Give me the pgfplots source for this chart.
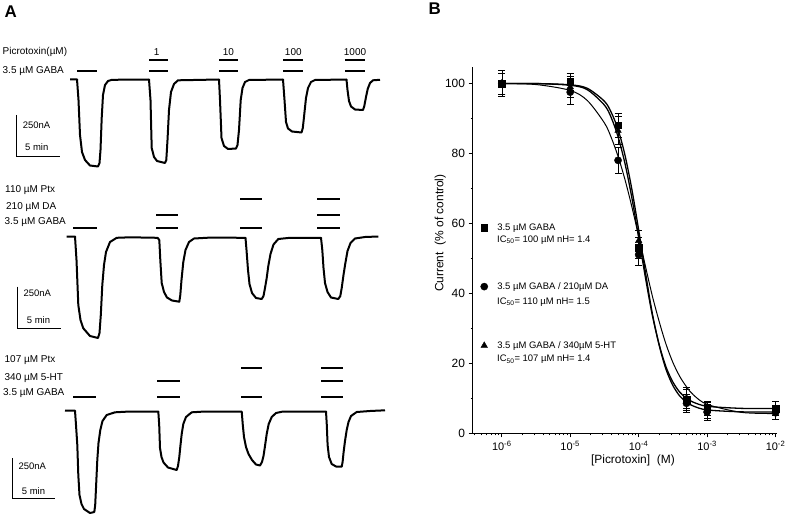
\documentclass[border=0pt]{standalone}
\usepackage{fontspec}
\setmainfont{Liberation Sans}
\usepackage{pgfplots}
\pgfplotsset{compat=1.18}

\newcommand{\fs}[1]{\fontsize{#1}{#1}\selectfont}

\begin{document}
\begin{tikzpicture}
\useasboundingbox (0,0) rectangle (785bp,516bp);

% ---- panel A: canvas in pixel units ----
\begin{axis}[
  scale only axis, width=785bp, height=516bp,
  xmin=0, xmax=785, ymin=0, ymax=516, y dir=reverse,
  hide axis, clip=false, at={(0,0)}, anchor=south west,
  every axis plot/.append style={black, no marks},
]
% trace 1
\addplot[line width=2bp, line join=round] coordinates {
(70,79.3)(77,79.3)(78.5,100)(80,135)(82,152)(85,160)(90,165.5)(98,166.5)(99.5,163)(100.5,150)
(101.7,118)(103,95)(105,85)(108,81)(112,79.8)(149,79.5)(150.5,100)(151.7,148)(154,157)(157,161)
(165,163)(166.3,160)(167.5,140)(169,110)(171,92)(174,84)(178,80.3)(219,79.5)(220,100)(221.5,138)
(224,146)(228,149)(236,148.5)(237.5,145)(239,130)(240.7,100)(242.5,88)(245,82)(249,80)(283,79.5)
(284.5,100)(286,122)(288,128.5)(292,131.5)(301.5,132.5)(302.8,128)(304,117)(306,98)(308,88)(311,82)
(315,80)(346.5,79.5)(347.5,90)(349,101)(351,106.5)(355,109.5)(363,110)(364.3,106)(366,97)(367.7,89)
(370,83)(373,80.3)(380,79.8)};
% trace 2
\addplot[line width=2bp, line join=round] coordinates {
(66.7,236.5)(75,236.5)(76.5,260)(78.3,305)(80.5,320)(83.3,328.3)(90,336)(98,338)(99.5,333)(100.8,315)
(102.3,285)(104,265)(106,252)(110,242)(116.7,237.8)(130,237.3)(157.5,237.8)(159.3,240)(160.3,260)(161.7,283)
(164,292)(167,297.5)(172,300.5)(179.3,301.7)(180.3,295)(181.5,280)(183.3,262)(185.5,250)(189,242)(194,238.5)
(210,237.6)(245.5,237.8)(246.5,250)(248,270)(249.5,284)(252,293)(256,298)(261.7,299)(263.5,296)(265,288)
(266.7,278)(268.3,266)(270.5,254)(273.5,244.5)(278.3,239)(290,237.8)(321,237.8)(322.3,250)(323.5,268)(325,283)
(327.5,292)(331,297.5)(338.3,299)(340.3,296)(341.7,288)(343.5,275)(345.2,264)(347.5,251)(350.5,243)(355,238.5)
(365,237)(378.3,236.5)};
% trace 3
\addplot[line width=2bp, line join=round] coordinates {
(65,410.5)(75,410.7)(76,425)(77.3,445)(78.3,475)(79.5,495)(81.5,504)(84,509)(90,513)(94.3,512)
(95.2,505)(96,488)(97.3,460)(98.5,443)(100.3,430)(102.5,421)(106.7,415)(115,412.3)(130,411.5)(158.3,411.5)
(159.2,425)(160,448)(161.5,457)(163.5,462.5)(168,467.5)(176.7,470)(178,466)(179.3,457)(180.5,445)(181.7,434)
(183.3,424)(186,417)(191.7,412.3)(205,411.5)(241.7,411.5)(242.8,425)(244,437)(246,447)(248.5,454)(252,460)
(256,464.5)(260,465.5)(262,462)(263.5,456)(265,446)(266.7,434)(268.7,424)(271.7,417)(276,413)(283,411.5)
(326,411.5)(326.8,425)(327.6,445)(329,457)(331.7,464)(336,466.5)(341.7,466.7)(342.6,462)(343.5,453)(345,441)
(346.7,430)(348.5,422)(351,416)(356.7,412)(370,411)(385,410.3)};
% application bars
\addplot[line width=2bp, unbounded coords=jump] coordinates {
(77,71)(97,71)(nan,nan)(149.3,71)(168.3,71)(nan,nan)(149.3,60)(168.3,60)(nan,nan)
(219,71)(238.3,71)(nan,nan)(219,60)(238.3,60)(nan,nan)(283.3,71)(303.3,71)(nan,nan)
(283.3,60)(303.3,60)(nan,nan)(345,71)(365,71)(nan,nan)(345,60)(365,60)(nan,nan)
(73,228)(97,228)(nan,nan)(156,228)(178,228)(nan,nan)(156,215)(178,215)(nan,nan)
(240,228)(262,228)(nan,nan)(240,199)(262,199)(nan,nan)(317,228)(340,228)(nan,nan)
(317,215)(340,215)(nan,nan)(317,199)(340,199)(nan,nan)
(73,397)(96,397)(nan,nan)(157,397)(180,397)(nan,nan)(157,381)(180,381)(nan,nan)
(241,397)(262,397)(nan,nan)(241,368)(262,368)(nan,nan)(321,397)(343,397)(nan,nan)
(321,381)(343,381)(nan,nan)(321,368)(343,368)};
% scale bars
\addplot[line width=1.2bp, unbounded coords=jump] coordinates {
(16.7,115)(16.7,156.7)(60,156.7)(nan,nan)(17.3,286.7)(17.3,328.3)(61,328.3)(nan,nan)
(12.7,458.3)(12.7,498.3)(55,498.3)};

\node[anchor=west, font=\fs{17}\bfseries] at (axis cs:1,12) {A};
\node[anchor=west, font=\fs{17}\bfseries] at (axis cs:425,9) {B};
\begin{scope}[every node/.style={font=\fs{10}, inner sep=0pt}]
\node[anchor=west] at (axis cs:2.5,52) {Picrotoxin(µM)};
\node[anchor=west] at (axis cs:2.5,71) {3.5 µM GABA};
\node at (axis cs:156.7,52) {1};
\node at (axis cs:228.3,52) {10};
\node at (axis cs:293.3,52) {100};
\node at (axis cs:355,52) {1000};
\node[anchor=west] at (axis cs:5,190) {110 µM Ptx};
\node[anchor=west] at (axis cs:6,206.7) {210 µM DA};
\node[anchor=west] at (axis cs:4.5,221.7) {3.5 µM GABA};
\node[anchor=west] at (axis cs:4.5,360) {107 µM Ptx};
\node[anchor=west] at (axis cs:4.5,378.3) {340 µM 5-HT};
\node[anchor=west] at (axis cs:3,393.3) {3.5 µM GABA};
\end{scope}
\begin{scope}[every node/.style={font=\fs{9.5}, inner sep=0pt, anchor=west}]
\node at (axis cs:22.7,125) {250nA};
\node at (axis cs:25,146.7) {5 min};
\node at (axis cs:23.3,293.3) {250nA};
\node at (axis cs:26.7,320) {5 min};
\node at (axis cs:18.3,466.7) {250nA};
\node at (axis cs:21.7,491) {5 min};
\end{scope}
\end{axis}

% ---- panel B: concentration-response ----
\begin{axis}[
  scale only axis, width=304bp, height=366bp,
  at={(473bp,83bp)}, anchor=south west,
  xmode=log,
  xmin=3.8e-7, xmax=1.05e-2, ymin=0, ymax=104.7,
  axis lines=left, axis line style={-, line width=1bp},
  tick align=outside, tick style={black, line width=0.8bp},
  major tick length=4.5bp, minor tick length=2.5bp,
  ytick={0,20,40,60,80,100}, minor y tick num=1,
  /pgf/number format/assume math mode=true,
  yticklabel style={font=\fs{12}},
  xtick={1e-6,1e-5,1e-4,1e-3,1e-2},
  minor xtick={4e-7,5e-7,6e-7,7e-7,8e-7,9e-7,
    2e-6,3e-6,4e-6,5e-6,6e-6,7e-6,8e-6,9e-6,
    2e-5,3e-5,4e-5,5e-5,6e-5,7e-5,8e-5,9e-5,
    2e-4,3e-4,4e-4,5e-4,6e-4,7e-4,8e-4,9e-4,
    2e-3,3e-3,4e-3,5e-3,6e-3,7e-3,8e-3,9e-3},
  xticklabels={10\textsuperscript{-6},10\textsuperscript{-5},10\textsuperscript{-4},10\textsuperscript{-3},10\textsuperscript{-2}},
  xticklabel style={font=\fs{11}},
  xlabel={{[Picrotoxin]}\ \ (M)}, ylabel={Current\ \ (\% of control)},
  label style={font=\fs{12}},
  xlabel style={at={(axis description cs:0.526,-0.074)}, anchor=center},
  ylabel style={at={(axis description cs:-0.108,0.546)}, anchor=center},
  clip=false,
  legend cell align=left,
  legend style={at={(axis description cs:0.0245,0.574)}, anchor=north west,
    draw=none, fill=none, font=\fs{9.5}, row sep=50bp, column sep=9.5bp,
    inner sep=0pt, nodes={inner sep=0pt, text height=7bp, text depth=2bp}},
]
% fitted curves
\addplot[black, line width=1.3bp, smooth, no marks, forget plot] coordinates {
(1e-6,100.0)(3.16e-6,99.96)(1e-5,99.48)(1.78e-5,98.2)(3.16e-5,93.8)(3.98e-5,90.2)(5.01e-5,84.7)
(6.31e-5,77.1)(7.94e-5,67.4)(1e-4,56.0)(1.26e-4,44.3)(1.58e-4,33.8)(2e-4,25.2)(2.51e-4,18.9)
(3.16e-4,14.6)(3.98e-4,11.7)(5.01e-4,9.9)(6.31e-4,8.8)(1e-3,7.65)(3.16e-3,7.05)(1e-2,7.0)};
\addplot[black, line width=1.3bp, smooth, no marks, forget plot] coordinates {
(1e-6,100.0)(3.16e-6,99.97)(1e-5,99.6)(1.78e-5,98.6)(3.16e-5,94.9)(3.98e-5,91.7)(5.01e-5,86.8)
(6.31e-5,79.5)(7.94e-5,69.8)(1e-4,58.1)(1.26e-4,45.8)(1.58e-4,34.3)(2e-4,25.0)(2.51e-4,18.2)
(3.16e-4,13.6)(3.98e-4,10.6)(5.01e-4,8.8)(6.31e-4,7.7)(1e-3,6.6)(3.16e-3,6.05)(1e-2,6.0)};
\addplot[black, line width=1.0bp, smooth, no marks, forget plot] coordinates {
(1e-6,99.95)(3.16e-6,99.68)(1e-5,98.0)(1.78e-5,95.1)(3.16e-5,88.7)(3.98e-5,84.5)(5.01e-5,79.1)
(6.31e-5,72.5)(7.94e-5,64.8)(1e-4,56.3)(1.26e-4,47.6)(1.58e-4,39.3)(2e-4,31.8)(2.51e-4,25.4)
(3.16e-4,20.2)(3.98e-4,16.2)(5.01e-4,13.2)(6.31e-4,10.9)(1e-3,8.2)(3.16e-3,5.9)(1e-2,5.57)};
% data
\addplot[black, only marks, mark=square*, mark size=3.3bp,
  error bars/.cd, y dir=both, y explicit,
  error mark options={rotate=90, mark size=3.5bp, line width=0.8bp}] coordinates {
(1e-6,100) +- (0,3) (1e-5,100.5) +- (0,2.5) (5e-5,88) +- (0,3.5) (1e-4,53) +- (0,3)
(5e-4,9.5) +- (0,3) (1e-3,7) +- (0,2) (1e-2,7) +- (0,2)};
\addlegendentry{3.5 µM GABA}
\addplot[black, only marks, mark=*, mark size=3.6bp,
  error bars/.cd, y dir=both, y explicit,
  error mark options={rotate=90, mark size=3.5bp, line width=0.8bp}] coordinates {
(1e-6,100) +- (0,3.7) (1e-5,97.5) +- (0,3.5) (5e-5,78) +- (0,3.7) (1e-4,51) +- (0,3)
(5e-4,8.5) +- (0,2.5) (1e-3,6) +- (0,2.3) (1e-2,5.8) +- (0,2)};
\addlegendentry{3.5 µM GABA / 210µM DA}
\addplot[black, only marks, mark=triangle*, mark size=3.8bp,
  error bars/.cd, y dir=both, y explicit,
  error mark options={rotate=90, mark size=3.5bp, line width=0.8bp}] coordinates {
(1e-6,100) +- (0,3) (1e-5,99) +- (0,3) (5e-5,86.5) +- (0,4) (1e-4,55) +- (0,3)
(5e-4,10) +- (0,3) (1e-3,6.5) +- (0,2.3) (1e-2,6) +- (0,2)};
\addlegendentry{3.5 µM GABA / 340µM 5-HT}
\begin{scope}[every node/.style={font=\fs{9.5}, inner sep=0pt, anchor=west}]
\node at (axis description cs:0.079,0.5273) {IC\textsubscript{50}= 100 µM nH= 1.4};
\node at (axis description cs:0.079,0.3587) {IC\textsubscript{50}= 110 µM nH= 1.5};
\node at (axis description cs:0.079,0.2014) {IC\textsubscript{50}= 107 µM nH= 1.4};
\end{scope}
\end{axis}
\end{tikzpicture}
\end{document}
